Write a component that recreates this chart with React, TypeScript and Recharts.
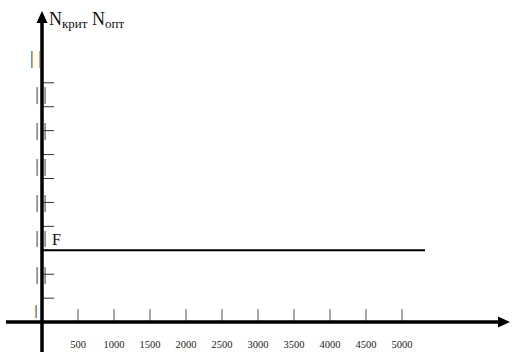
import { ComposedChart, XAxis, YAxis, Line, ReferenceLine, LabelList } from 'recharts';

// x in load units, y in grid units (one tick step each)
const X_TICKS = [500, 1000, 1500, 2000, 2500, 3000, 3500, 4000, 4500, 5000];
const Y_TICKS = [1, 2, 3, 4, 5, 6, 7, 8, 9, 10];
const X_DOMAIN = [-500, 6500];
const Y_DOMAIN = [-1.25, 13];

const F_X = [0, 5320];
const F_LEVEL = 3;

// the little dashed marks next to the vertical axis
const MID_BANDS = [
  [1.59, 2.3],
  [3.14, 3.81],
  [4.6, 5.31],
  [6.11, 6.82],
  [7.61, 8.32],
  [9.11, 9.82],
];
const TOP_BAND = [10.62, 11.33];
const BOTTOM_BAND = [0.17, 0.71];

const ORANGE = '#F0A050';
const BLUE = '#4A9FE0';
const SERIF = "'Liberation Serif', 'Times New Roman', serif";

const fData = F_X.map((x) => ({ x, f: F_LEVEL }));

function ArrowLine(props: any) {
  const { x1, y1, x2, y2 } = props;
  const dx = x2 - x1;
  const dy = y2 - y1;
  const len = Math.hypot(dx, dy) || 1;
  const ux = dx / len;
  const uy = dy / len;
  const head = 12;
  const half = 5.5;
  const bx = x2 - ux * head;
  const by = y2 - uy * head;
  return (
    <g>
      <line x1={x1} y1={y1} x2={bx} y2={by} stroke="#000" strokeWidth={3.5} />
      <polygon
        points={`${x2},${y2} ${bx - uy * half},${by + ux * half} ${bx + uy * half},${by - ux * half}`}
        fill="#000"
      />
    </g>
  );
}

function Title(props: any) {
  const vb = props.viewBox || { x: 42, y: 11 };
  return (
    <text x={vb.x + 7} y={vb.y + 14} fontFamily={SERIF} fontSize={18} fill="#111">
      <tspan>N</tspan>
      <tspan fontSize={13} dy={3}>крит</tspan>
      <tspan dy={-3}> N</tspan>
      <tspan fontSize={13} dy={3}>опт</tspan>
    </text>
  );
}

function FLabel(props: any) {
  if (props.index !== 0) return null;
  return (
    <text x={props.x + 10} y={props.y - 5} fontFamily={SERIF} fontSize={16} fill="#111">
      F
    </text>
  );
}

function dashMarks(bands: number[][], xs: { x: number; color: string }[], key: string) {
  const out: any[] = [];
  bands.forEach((b, i) => {
    xs.forEach((c, j) => {
      out.push(
        <ReferenceLine
          key={`${key}-${i}-${j}`}
          segment={[
            { x: c.x, y: b[0] },
            { x: c.x, y: b[1] },
          ]}
          stroke={c.color}
          strokeWidth={1}
          ifOverflow="visible"
        />
      );
    });
  });
  return out;
}

export default function App() {
  return (
    <div style={{ position: 'absolute', left: 0, top: 0, width: 527, height: 362, background: '#fff' }}>
      <ComposedChart
        width={527}
        height={362}
        data={fData}
        margin={{ top: 11, right: 17, bottom: 10, left: 6 }}
      >
        <XAxis type="number" dataKey="x" domain={X_DOMAIN} allowDataOverflow hide />
        <YAxis type="number" domain={Y_DOMAIN} allowDataOverflow hide />

        {dashMarks(MID_BANDS, [
          { x: -76.4, color: ORANGE },
          { x: -62.5, color: BLUE },
          { x: 34.7, color: ORANGE },
          { x: 48.6, color: BLUE },
        ], 'mid')}
        {dashMarks([TOP_BAND], [
          { x: -145.8, color: BLUE },
          { x: -131.9, color: ORANGE },
          { x: -34.7, color: ORANGE },
        ], 'top')}
        {dashMarks([BOTTOM_BAND], [
          { x: -90.3, color: ORANGE },
          { x: -76.4, color: BLUE },
        ], 'bot')}

        {Y_TICKS.map((v) => (
          <ReferenceLine
            key={`yt-${v}`}
            segment={[
              { x: 0, y: v },
              { x: 167, y: v },
            ]}
            stroke="#333"
            strokeWidth={1}
            ifOverflow="visible"
          />
        ))}

        {X_TICKS.map((v) => (
          <ReferenceLine
            key={`xt-${v}`}
            segment={[
              { x: v, y: 0 },
              { x: v, y: 0.55 },
            ]}
            stroke="#555"
            strokeWidth={1}
            ifOverflow="visible"
            label={{
              value: String(v),
              position: 'bottom',
              offset: 18,
              fontSize: 10.5,
              fontFamily: SERIF,
              fill: '#222',
            }}
          />
        ))}

        <Line
          dataKey="f"
          stroke="#000"
          strokeWidth={2}
          dot={false}
          isAnimationActive={false}
        >
          <LabelList content={<FLabel />} />
        </Line>

        <ReferenceLine
          segment={[
            { x: X_DOMAIN[0], y: 0 },
            { x: X_DOMAIN[1], y: 0 },
          ]}
          shape={ArrowLine}
          ifOverflow="visible"
        />
        <ReferenceLine
          segment={[
            { x: 0, y: Y_DOMAIN[0] },
            { x: 0, y: Y_DOMAIN[1] },
          ]}
          shape={ArrowLine}
          ifOverflow="visible"
          label={{ content: <Title /> }}
        />
      </ComposedChart>
    </div>
  );
}
